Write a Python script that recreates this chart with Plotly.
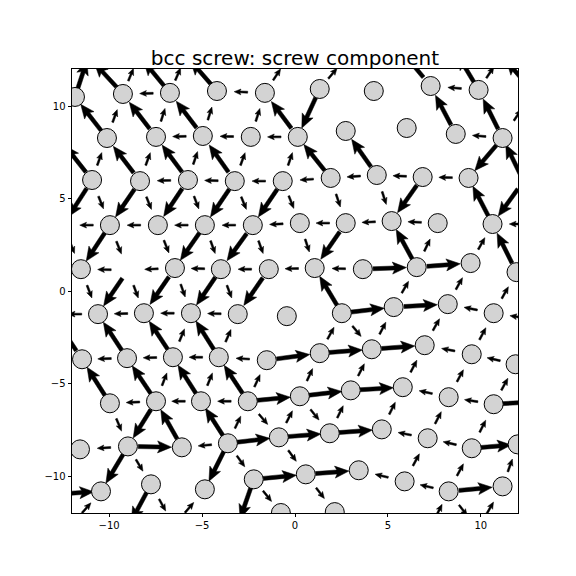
import math
import plotly.graph_objects as go

# ---------------- data ----------------
atom_names = ["Z0", "Z1", "Z2", "Z4", "Z5", "Z6", "Z7", "Z8",
              "A0", "A1", "A2", "A3", "A4", "A5", "A6", "A7", "A8", "A9",
              "Bm1", "B0", "B1", "B2", "B3", "B4", "B5", "B6", "B7", "B8", "B9",
              "C0", "C1", "C2", "C3", "C4", "C5", "C6", "C7", "C8", "C9",
              "Dm1", "D0", "D1", "D2", "D3", "D4", "D5", "D6", "D7", "D8", "D9",
              "E0", "E1", "E2", "E3", "E4", "E5", "E6", "E7", "E8", "E9",
              "Fm1", "F0", "F1", "F2", "F3", "F4", "F5", "F6", "F7", "F8", "F9",
              "G0", "G1", "G2", "G3", "G4", "G5", "G6", "G7", "G8", "G9",
              "Hm1", "H0", "H1", "H2", "H3", "H4", "H5", "H6", "H7", "H8", "H9",
              "I0", "I1", "I2", "I3", "I4", "I5", "I6", "I7", "I8", "I9",
              "Jm1", "J0", "J1", "J2", "J3", "J4", "J5", "J6", "J7", "J8",
              "Ka", "Kb", "Kc", "Kd", "K0", "K1", "Kf", "Kg"]
atom_x = [-11.12, -8.40, -5.87, -0.33, 2.73, 5.37, 8.59, 11.12,
          -11.84, -9.26, -6.73, -4.20, -1.62, 1.33, 4.24, 7.30, 9.88, 12.79,
          -12.70, -10.12, -7.48, -4.96, -2.38, 0.15, 2.73, 6.01, 8.65, 11.17, 13.70,
          -10.92, -8.34, -5.76, -3.24, -0.66, 1.92, 4.40, 6.87, 9.34, 12.30,
          -12.48, -9.96, -7.38, -4.85, -2.27, 0.26, 2.73, 5.20, 7.68, 10.63, 13.16,
          -11.52, -8.99, -6.46, -3.99, -1.41, 1.06, 3.65, 6.55, 9.45, 11.92,
          -13.08, -10.60, -8.13, -5.60, -3.08, -0.44, 2.52, 5.31, 8.22, 10.69, 13.16,
          -11.46, -9.04, -6.57, -4.10, -1.52, 1.33, 4.13, 6.98, 9.51, 11.87,
          -12.43, -9.96, -7.48, -5.06, -2.54, 0.26, 3.00, 5.80, 8.27, 10.69, 13.32,
          -11.57, -8.99, -6.09, -3.61, -0.87, 1.87, 4.67, 7.14, 9.51, 11.98,
          -13.02, -10.44, -7.75, -4.85, -2.22, 0.58, 3.43, 5.90, 8.27, 11.17,
          -12.00, -9.02, -6.52, -3.10, -0.76, 2.14, 7.23, 9.83]
atom_y = [12.68, 12.74, 12.73, 12.69, 12.60, 13.41, 13.03, 12.76,
          10.49, 10.65, 10.71, 10.81, 10.71, 10.92, 10.81, 11.08, 10.87, 10.76,
          8.27, 8.27, 8.33, 8.38, 8.33, 8.33, 8.65, 8.81, 8.49, 8.27, 8.27,
          6.00, 5.94, 6.00, 5.94, 5.94, 6.11, 6.27, 6.16, 6.11, 5.94,
          3.56, 3.56, 3.56, 3.56, 3.56, 3.67, 3.67, 3.78, 3.67, 3.62, 3.62,
          1.18, 1.13, 1.24, 1.18, 1.18, 1.24, 1.18, 1.29, 1.51, 1.02,
          -1.25, -1.25, -1.20, -1.20, -1.25, -1.36, -1.20, -0.87, -0.71, -1.20, -1.58,
          -3.69, -3.63, -3.58, -3.58, -3.74, -3.36, -3.15, -2.93, -3.42, -3.96,
          -6.07, -6.07, -5.96, -5.96, -5.96, -5.69, -5.37, -5.20, -5.74, -6.12, -5.96,
          -8.56, -8.40, -8.45, -8.23, -7.91, -7.69, -7.48, -7.96, -8.50, -8.29,
          -10.99, -10.83, -10.45, -10.72, -10.18, -9.91, -9.69, -10.29, -10.83, -10.56,
          -12.62, -12.83, -12.69, -12.72, -12.00, -11.95, -12.89, -12.89]
# atoms that are not drawn as circles (outside the view, or missing)
hidden_atoms = ["Z0", "Z1", "Z2", "Z4", "Z5", "Z6", "Z7", "Z8", "A9", "Bm1", "B9",
                "C9", "Dm1", "D9", "E1", "Fm1", "F9", "Hm1", "H9", "Jm1",
                "Ka", "Kb", "Kc", "Kd", "Kf", "Kg"]

# differential-displacement arrows: from atom -> to atom, arrow size class
arrow_from = ["A0", "A1", "A1", "A2", "A2", "A3", "A4", "A5", "A7", "A8", "A8", "A9",
              "A2", "A4", "A8",
              "B0", "B0", "B1", "B1", "B2", "B2", "B3", "B4", "A5", "B7", "B8", "B8",
              "B2", "B3", "B4", "B8",
              "C0", "C0", "C1", "C1", "C2", "C2", "C3", "C3", "C4", "C5", "C6", "B8", "C9",
              "C2", "C3", "C4", "C5", "C6", "C7", "C8",
              "C0", "C0", "C1", "C1", "C2", "C2", "C3", "C3", "C4", "C4", "C5", "C6", "C7", "D8", "C9",
              "D0", "D1", "D2", "D3", "D4", "D5", "D6", "D7", "D9",
              "Dm1", "D0", "D0", "D1", "D2", "D2", "D3", "D3", "D4", "D5", "E7", "E7", "E8", "E9",
              "E1", "E2", "E3", "E4", "E5", "E6", "E6", "E7",
              "E0", "E1", "E1", "E2", "E2", "E3", "E3", "E4", "F5", "F6", "F7", "F8",
              "F0", "F1", "F2", "F3", "F5", "F6", "F8", "F9",
              "G0", "G1", "G2", "G2", "G3", "G3", "G5", "F5", "G6", "G7", "G8",
              "G1", "G2", "G3", "G4", "G4", "G5", "G6", "G8", "G9",
              "H0", "H1", "H1", "H2", "H2", "H3", "H3", "H4", "H5", "H6", "H7", "H8",
              "H1", "H2", "H3", "H3", "H4", "H5", "H7", "H8", "H8",
              "H0", "H1", "I2", "I3", "I3", "H3", "I4", "H4", "I5", "I6", "I7", "I8",
              "I1", "I1", "I3", "I3", "I4", "I5", "I7", "I8", "I8",
              "I1", "I1", "I3", "I3", "I4", "J6", "J7", "J8",
              "Jm1", "J3", "J4", "J6", "J7", "J7",
              "J1", "J3", "J3", "J4", "Ka", "J1", "Kc", "Kf", "J7", "Kg"]
arrow_to = ["Z0", "Z0", "Z1", "Z1", "Z2", "Z2", "Z4", "Z5", "Z6", "Z7", "Z8", "Z8",
            "A1", "A3", "A7",
            "A0", "A1", "A1", "A2", "A2", "A3", "A4", "A4", "B4", "A7", "A8", "A9",
            "B1", "B2", "B3", "B7",
            "Bm1", "B0", "B0", "B1", "B1", "B2", "B2", "B3", "B4", "B4", "B5", "C8", "B8",
            "C1", "C2", "C3", "C4", "C5", "C6", "C7",
            "Dm1", "D0", "D0", "D1", "D1", "D2", "D2", "D3", "D3", "D4", "D5", "D6", "D6", "C8", "D8",
            "Dm1", "D0", "D1", "D2", "D3", "D4", "D5", "D6", "D8",
            "E0", "E0", "E1", "E2", "E2", "E3", "E3", "E4", "E5", "E5", "D6", "D7", "D8", "D8",
            "E0", "E1", "E2", "E3", "E4", "E5", "E7", "E8",
            "F0", "F0", "F1", "F1", "F2", "F2", "F3", "F3", "E5", "E7", "E8", "E9",
            "Fm1", "F0", "F1", "F2", "F6", "F7", "F7", "F8",
            "Fm1", "F0", "F1", "F2", "F2", "F3", "F5", "G6", "F6", "F7", "F8",
            "G0", "G1", "G2", "G3", "G5", "G6", "G7", "G7", "G8",
            "G0", "G1", "G2", "G2", "G3", "G3", "G4", "G5", "G6", "G7", "G8", "G9",
            "H0", "H1", "H2", "H4", "H5", "H6", "H6", "H7", "H9",
            "I1", "I1", "H1", "H2", "H3", "I4", "H4", "I5", "H5", "H6", "H7", "H8",
            "I0", "I2", "I2", "I4", "I5", "I6", "I6", "I7", "I9",
            "J0", "J1", "J2", "J3", "J4", "I7", "I8", "I9",
            "J0", "J4", "J5", "J5", "J6", "J8",
            "Kb", "Kd", "K0", "K1", "J0", "Kc", "J2", "J7", "Kg", "J8"]
BIG, SMALL = 1.80, 0.73
arrow_size = ["B", "B", "S", "B", "S", "B", "S", "S", "B", "B", "S", "B",
              "S", "S", "S",
              "B", "S", "B", "S", "B", "S", "S", "B", "B", "B", "B", "S",
              "S", "S", "S", "S",
              "B", "S", "B", "S", "B", "S", "B", "S", "S", "B", "B", "B", "B",
              "S", "S", "S", "S", "S", "S", "S",
              "B", "S", "B", "S", "B", "S", "B", "S", "B", "S", "S", "S", "B", "B", "B",
              "S", "S", "S", "S", "S", "S", "S", "S", "S",
              "S", "B", "S", "S", "B", "S", "B", "S", "S", "B", "B", "S", "S", "B",
              "S", "S", "S", "S", "S", "S", "B", "B",
              "S", "B", "S", "B", "S", "B", "S", "B", "B", "S", "S", "S",
              "S", "S", "S", "S", "B", "B", "S", "S",
              "B", "B", "B", "S", "B", "S", "S", "S", "S", "S", "S",
              "S", "S", "S", "S", "B", "B", "B", "S", "S",
              "B", "B", "S", "B", "S", "B", "S", "S", "S", "S", "S", "S",
              "S", "S", "S", "B", "B", "B", "S", "S", "B",
              "S", "B", "B", "B", "S", "S", "S", "S", "S", "S", "S", "S",
              "S", "B", "S", "B", "B", "B", "S", "S", "B",
              "B", "S", "B", "S", "S", "S", "S", "S",
              "B", "B", "B", "S", "S", "B",
              "B", "B", "S", "S", "S", "S", "S", "S", "S", "S"]

title_text = "bcc screw: screw component"
tick_vals = [-10, -5, 0, 5, 10]

# ---------------- geometry / style ----------------
# (the page body adds an 8 px offset, so the figure is 560 px and the margins
#  are reduced by 8 px to put the axes where they are in the reference)
W, H = 560, 560
ML, MT = 64.0, 61.1
PW, PH = 446.4, 443.5
MR, MB = W - ML - PW, H - MT - PH
XR = [-12, 12]
YR = [-12, 12]
SX = PW / (XR[1] - XR[0])   # px per data unit
SY = PH / (YR[1] - YR[0])

pos = {n: (x, y) for n, x, y in zip(atom_names, atom_x, atom_y)}

# quiver-like arrow polygon (sizes in px)
SHAFT = 4.0
HEADW = 3.0 * SHAFT
HEADL = 3.5 * SHAFT
HEADAX = 3.0 * SHAFT
MINSH = 2.0 * HEADL

px_all, py_all = [], []
for a, b, s in zip(arrow_from, arrow_to, arrow_size):
    ax_, ay_ = pos[a]
    bx_, by_ = pos[b]
    cx, cy = (ax_ + bx_) / 2.0, (ay_ + by_) / 2.0
    dxp, dyp = (bx_ - ax_) * SX, (by_ - ay_) * SY
    d = math.hypot(dxp, dyp)
    ln = (BIG if s == "B" else SMALL)
    Lp = ln * (SX + SY) / 2.0
    ux, uy = dxp / d, dyp / d
    if Lp >= MINSH:
        xs = [0, Lp - HEADAX, Lp - HEADL, Lp, Lp - HEADL, Lp - HEADAX, 0]
        ys = [SHAFT / 2, SHAFT / 2, HEADW / 2, 0, -HEADW / 2, -SHAFT / 2, -SHAFT / 2]
    else:
        k = Lp / MINSH
        xs = [k * v for v in [0, MINSH - HEADAX, MINSH - HEADL, MINSH, MINSH - HEADL, MINSH - HEADAX, 0]]
        ys = [k * v for v in [SHAFT / 2, SHAFT / 2, HEADW / 2, 0, -HEADW / 2, -SHAFT / 2, -SHAFT / 2]]
    for xl, yl in zip(xs, ys):
        xl2 = xl - Lp / 2.0
        rx = xl2 * ux - yl * uy
        ry = xl2 * uy + yl * ux
        px_all.append(cx + rx / SX)
        py_all.append(cy + ry / SY)
    px_all.append(px_all[-7])
    py_all.append(py_all[-7])
    px_all.append(None)
    py_all.append(None)

fig = go.Figure()
fig.add_trace(go.Scatter(x=px_all, y=py_all, mode="lines", fill="toself",
                         fillcolor="black", line=dict(color="black", width=0.5),
                         hoverinfo="skip", showlegend=False))

cx_ = [x for n, x in zip(atom_names, atom_x) if n not in hidden_atoms]
cy_ = [y for n, y in zip(atom_names, atom_y) if n not in hidden_atoms]
fig.add_trace(go.Scatter(x=cx_, y=cy_, mode="markers",
                         marker=dict(size=19, color="#d3d3d3",
                                     line=dict(color="black", width=1)),
                         cliponaxis=True, showlegend=False, hoverinfo="skip"))

axis_common = dict(showgrid=False, zeroline=False, showline=True, mirror=True,
                   linecolor="black", linewidth=0.8, ticks="outside", ticklen=3.5,
                   tickwidth=0.8, tickcolor="black", tickvals=tick_vals,
                   tickfont=dict(family="DejaVu Sans", size=10, color="black"))
fig.update_layout(
    width=W, height=H,
    margin=dict(l=ML, r=MR, t=MT, b=MB, pad=0),
    paper_bgcolor="white", plot_bgcolor="white",
    title=dict(text=title_text, x=0.5, xref="paper", xanchor="center",
               y=1 - 57.0 / H, yref="container", yanchor="bottom",
               font=dict(family="DejaVu Sans", size=20, color="black")),
    xaxis=dict(range=XR, **axis_common),
    yaxis=dict(range=YR, **axis_common),
    showlegend=False,
)
fig.write_html("out.html")
